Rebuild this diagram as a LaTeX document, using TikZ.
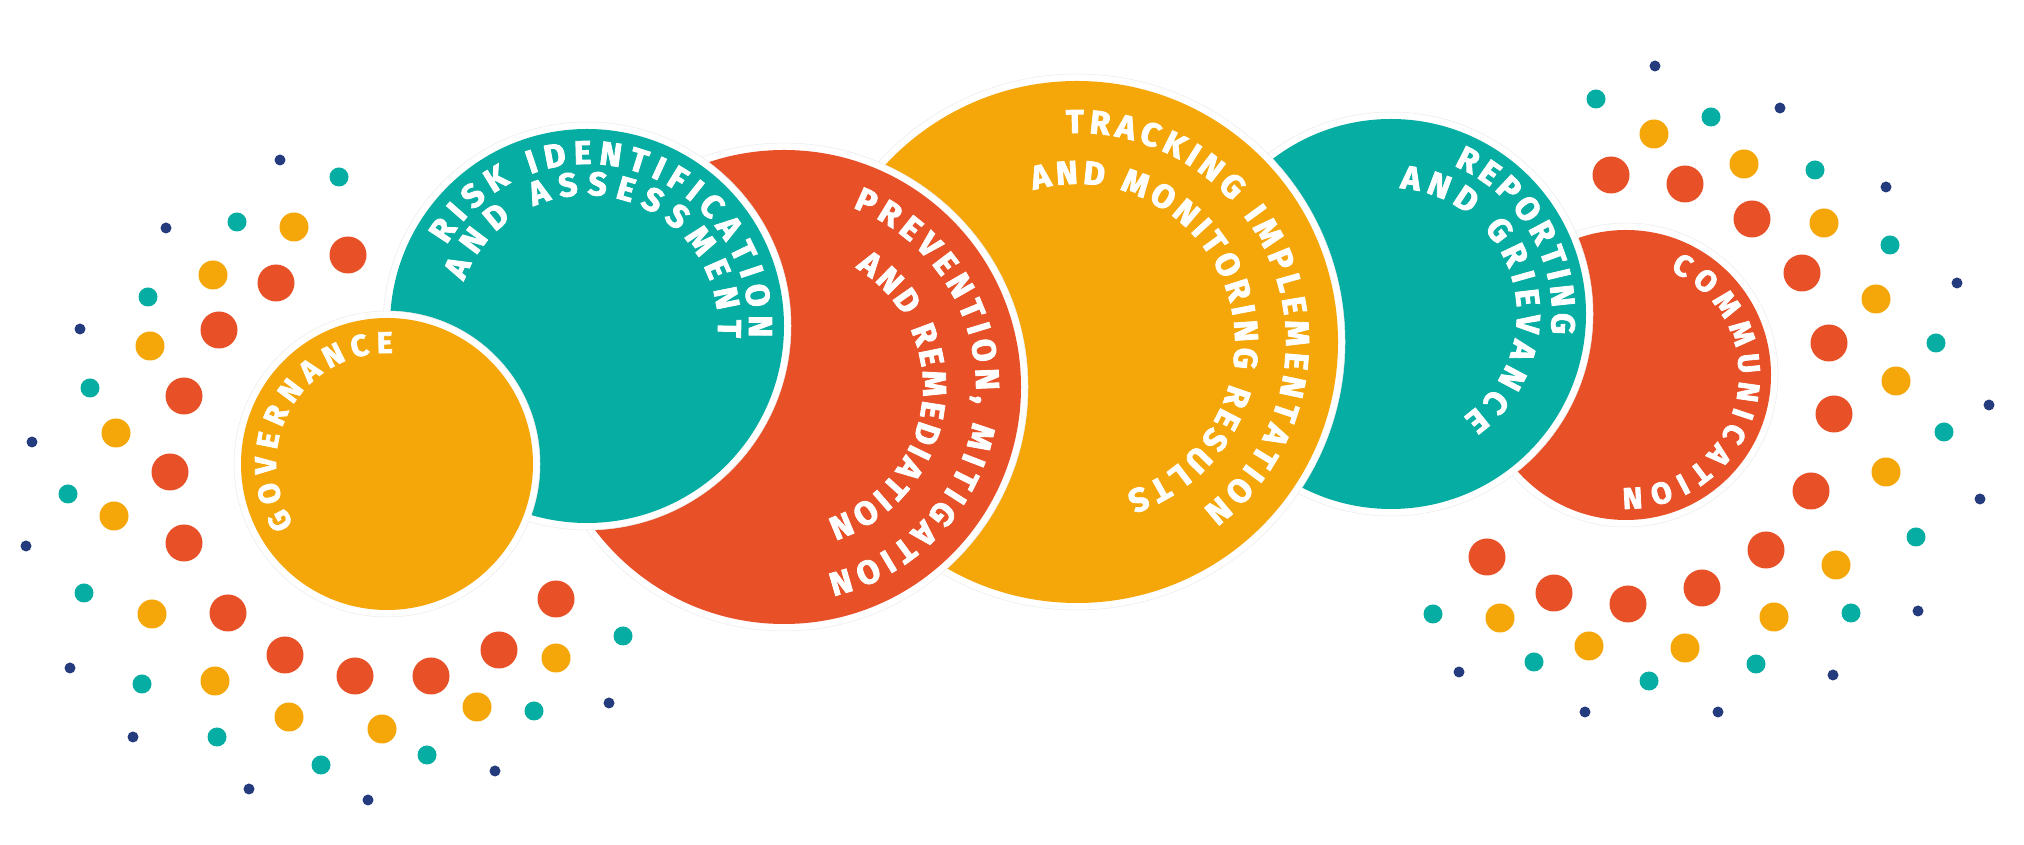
\documentclass[tikz,border=0pt]{standalone}
\usepackage{fontspec}
\newfontfamily\circfont{Fira Sans}[BoldFeatures={FakeBold=2.5}]
\usetikzlibrary{decorations.text}

\definecolor{dotnavy}{RGB}{36,59,125}
\definecolor{dotteal}{RGB}{6,173,162}
\definecolor{dotorange}{RGB}{245,167,10}
\definecolor{dotred}{RGB}{232,80,40}

\tikzset{
  ring/.style={fill=white, draw=black!8, line width=0.5pt},
  arctext/.style={decorate, decoration={text along path, text align={fit to path},
      text color=white, text={|\circfont\bfseries\fontsize{33}{35}\selectfont|#1}}},
  smallarctext/.style={decorate, decoration={text along path, text align={fit to path},
      text color=white, text={|\circfont\bfseries\fontsize{30}{32}\selectfont|#1}}}
}

\begin{document}
\begin{tikzpicture}[x=1pt, y=1pt]
    \useasboundingbox (0,0) rectangle (2024,845);

    % Pontos da esquerda
    \foreach \x/\y in {280/160, 166/228, 80/329, 32/442, 26/546, 70/668, 133/737,
                       249/789, 368/800, 495/771, 609/703}
      \fill[dotnavy] (\x,845-\y) circle[radius=5.5];
    \foreach \x/\y in {339/177, 237/222, 148/297, 90/388, 68/494, 84/593, 142/684,
                       217/737, 321/765, 427/755, 534/711, 623/636}
      \fill[dotteal] (\x,845-\y) circle[radius=9.5];
    \foreach \x/\y in {294/227, 213/275, 150/346, 116/433, 114/516, 152/614, 215/681,
                       289/717, 382/729, 477/707, 556/658}
      \fill[dotorange] (\x,845-\y) circle[radius=14.5];
    \foreach \x/\y in {348/255, 276/283, 219/330, 184/396, 170/472, 184/543, 228/613,
                       285/655, 355/676, 431/676, 499/650, 556/599}
      \fill[dotred] (\x,845-\y) circle[radius=18.5];

    % Pontos da direita
    \foreach \x/\y in {1655/66, 1780/108, 1886/187, 1957/283, 1989/405, 1980/499,
                       1918/611, 1833/675, 1718/712, 1585/712, 1459/672}
      \fill[dotnavy] (\x,845-\y) circle[radius=5.5];
    \foreach \x/\y in {1596/99, 1711/117, 1815/170, 1890/245, 1936/343, 1944/432,
                       1916/537, 1851/613, 1756/664, 1649/681, 1534/662, 1433/614}
      \fill[dotteal] (\x,845-\y) circle[radius=9.5];
    \foreach \x/\y in {1654/134, 1744/164, 1824/223, 1876/299, 1896/381, 1886/472,
                       1836/565, 1774/617, 1685/648, 1589/646, 1500/618}
      \fill[dotorange] (\x,845-\y) circle[radius=14.5];
    \foreach \x/\y in {1611/175, 1685/184, 1752/219, 1802/273, 1829/343, 1834/414,
                       1811/491, 1766/550, 1702/588, 1628/604, 1554/593, 1487/557}
      \fill[dotred] (\x,845-\y) circle[radius=18.5];

    % Centros dos circulos
    \coordinate (comm)  at (1626,470);
    \coordinate (rep)   at (1391,531);
    \coordinate (track) at (1077,503);
    \coordinate (prev)  at (784,458);
    \coordinate (risk)  at (587,519);
    \coordinate (gov)   at (387,381);

    % Communication
    \path[ring] (comm) circle[radius=152];
    \fill[dotred] (comm) circle[radius=145];
    \path[smallarctext={COMMUNICATION}] ([shift={(67:113)}]comm) arc[start angle=67, end angle=-92, radius=113];

    % Reporting and grievance
    \path[ring] (rep) circle[radius=202];
    \fill[dotteal] (rep) circle[radius=195];
    \path[arctext={REPORTING}] ([shift={(67:161)}]rep) arc[start angle=67, end angle=-7, radius=161];
    \path[arctext={AND GRIEVANCE}] ([shift={(86:126)}]rep) arc[start angle=86, end angle=-55, radius=126];

    % Tracking
    \path[ring] (track) circle[radius=268];
    \fill[dotorange] (track) circle[radius=261];
    \path[arctext={TRACKING IMPLEMENTATION}] ([shift={(93:209)}]track) arc[start angle=93, end angle=-53, radius=209];
    \path[arctext={AND MONITORING RESULTS}] ([shift={(106:158)}]track) arc[start angle=106, end angle=-72, radius=158];

    % Prevention
    \path[ring] (prev) circle[radius=244];
    \fill[dotred] (prev) circle[radius=237];
    \path[arctext={PREVENTION, MITIGATION}] ([shift={(69:192)}]prev) arc[start angle=69, end angle=-77, radius=192];
    \path[arctext={AND REMEDIATION}] ([shift={(59:139)}]prev) arc[start angle=59, end angle=-72, radius=139];

    % Risk identification
    \path[ring] (risk) circle[radius=204];
    \fill[dotteal] (risk) circle[radius=197];
    \path[arctext={RISK IDENTIFICATION}] ([shift={(150:162)}]risk) arc[start angle=150, end angle=-4, radius=162];
    \path[arctext={AND ASSESSMENT}] ([shift={(160:131)}]risk) arc[start angle=160, end angle=-5, radius=131];

    % Governance
    \path[ring] (gov) circle[radius=153];
    \fill[dotorange] (gov) circle[radius=146];
    \path[smallarctext={GOVERNANCE}] ([shift={(213:111)}]gov) arc[start angle=213, end angle=87, radius=111];
\end{tikzpicture}
\end{document}
